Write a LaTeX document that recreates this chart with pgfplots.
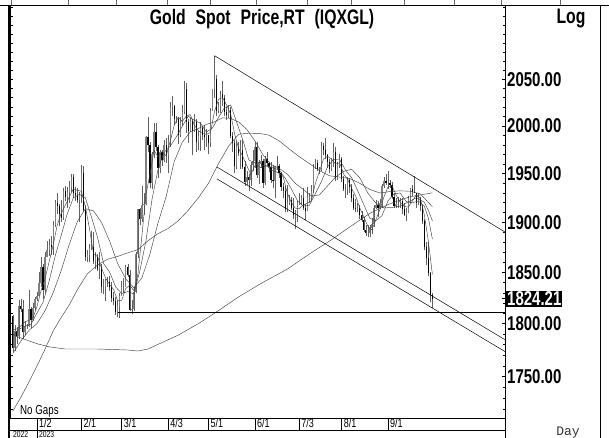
\documentclass[border=0pt]{standalone}
\usepackage{fontspec}
\setmainfont{Liberation Sans}
\newfontfamily\cond{Liberation Sans}[FakeStretch=0.75]
\newfontfamily\monof{Liberation Mono}
\usepackage{pgfplots}
\usepackage{pgfplotstable}
\pgfplotsset{compat=1.18}

\pgfplotstableread{
i o h l c
-12 1807 1808 1773 1777
-11 1777 1799 1774 1793
-10 1793 1797 1781 1788
-9 1788 1823 1785 1817
-8 1817 1824 1811 1814
-7 1814 1823 1785 1792
-6 1792 1803 1789 1798
-5 1798 1800 1795 1798
-4 1798 1833 1797 1814
-3 1814 1816 1796 1804
-2 1804 1820 1803 1815
-1 1815 1826 1813 1824
0 1824 1831 1822 1827
1 1827 1850 1827 1839
2 1839 1865 1836 1855
3 1855 1858 1824 1833
4 1833 1870 1830 1865
5 1865 1881 1865 1872
6 1872 1883 1866 1877
7 1877 1886 1867 1875
8 1875 1901 1867 1897
9 1897 1923 1895 1920
10 1920 1930 1908 1916
11 1916 1919 1896 1908
12 1908 1923 1900 1904
13 1904 1935 1902 1932
14 1932 1937 1922 1926
15 1926 1936 1915 1931
16 1931 1942 1920 1936
17 1936 1949 1931 1946
18 1946 1949 1925 1930
19 1930 1936 1922 1928
20 1928 1935 1920 1923
21 1923 1931 1900 1928
22 1928 1959 1920 1950
23 1950 1958 1910 1912
24 1912 1918 1861 1865
25 1865 1872 1860 1867
26 1867 1878 1860 1874
27 1874 1891 1872 1875
28 1875 1890 1858 1861
29 1861 1870 1853 1865
30 1865 1868 1851 1853
31 1853 1870 1843 1855
32 1855 1858 1830 1836
33 1836 1843 1829 1836
34 1836 1843 1822 1842
35 1842 1845 1836 1841
36 1841 1846 1832 1835
37 1835 1841 1821 1825
38 1825 1831 1818 1822
39 1822 1826 1808 1811
40 1811 1822 1806 1817
41 1817 1830 1805 1827
42 1827 1842 1827 1836
43 1836 1844 1830 1836
44 1836 1857 1836 1855
45 1855 1858 1845 1847
46 1847 1852 1812 1813
47 1813 1823 1809 1814
48 1814 1835 1812 1831
49 1831 1870 1830 1868
50 1868 1913 1864 1913
51 1913 1915 1897 1903
52 1903 1937 1900 1918
53 1918 1930 1907 1919
54 1919 1989 1918 1988
55 1988 2009 1972 1980
56 1980 1983 1935 1940
57 1940 1972 1934 1970
58 1970 2003 1966 1993
59 1993 2003 1974 1978
60 1978 1980 1945 1956
61 1956 1975 1950 1973
62 1973 1975 1958 1964
63 1964 1985 1962 1980
64 1980 1987 1961 1969
65 1969 1990 1950 1984
66 1984 2025 1978 2020
67 2020 2032 2010 2021
68 2021 2022 2001 2007
69 2007 2010 2003 2007
70 2007 2009 1981 1990
71 1990 2009 1988 2003
72 2003 2022 2000 2015
73 2015 2048 2012 2040
74 2040 2046 1992 2004
75 2004 2007 1982 1995
76 1995 2008 1993 2005
77 2005 2007 1969 1994
78 1994 2012 1993 2004
79 2004 2007 1973 1983
80 1983 1994 1975 1989
81 1989 2004 1974 1998
82 1998 2000 1985 1990
83 1990 2001 1975 1988
84 1988 1997 1978 1990
85 1990 1991 1970 1982
86 1982 2019 1978 2016
87 2016 2040 2016 2039
88 2039 2076 2030 2050
89 2050 2055 2010 2016
90 2016 2025 2014 2021
91 2021 2037 2014 2034
92 2034 2048 2021 2030
93 2030 2033 2010 2015
94 2015 2020 2006 2011
95 2011 2022 2008 2017
96 2017 2020 1987 1989
97 1989 1993 1972 1982
98 1982 1985 1951 1958
99 1958 1984 1955 1978
100 1978 1983 1968 1971
101 1971 1985 1955 1975
102 1975 1985 1955 1957
103 1957 1963 1937 1941
104 1941 1953 1938 1946
105 1946 1949 1932 1943
106 1943 1962 1937 1959
107 1959 1975 1953 1963
108 1963 1983 1956 1978
109 1978 1983 1945 1948
110 1948 1964 1939 1961
111 1961 1969 1956 1963
112 1963 1965 1935 1940
113 1940 1968 1938 1965
114 1965 1973 1958 1961
115 1961 1962 1952 1957
116 1957 1962 1940 1943
117 1943 1959 1935 1942
118 1942 1958 1925 1958
119 1958 1968 1954 1958
120 1958 1960 1945 1950
121 1950 1952 1932 1936
122 1936 1940 1925 1932
123 1932 1937 1910 1913
124 1913 1938 1910 1920
125 1920 1928 1917 1923
126 1923 1926 1912 1914
127 1914 1925 1903 1907
128 1907 1912 1893 1908
129 1908 1922 1900 1919
130 1919 1930 1917 1921
131 1921 1928 1917 1925
132 1925 1935 1912 1915
133 1915 1919 1902 1911
134 1911 1936 1911 1925
135 1925 1930 1920 1925
136 1925 1938 1922 1932
137 1932 1960 1930 1957
138 1957 1965 1955 1961
139 1961 1964 1953 1955
140 1955 1957 1949 1955
141 1955 1983 1953 1979
142 1979 1982 1969 1975
143 1975 1987 1965 1969
144 1969 1970 1956 1962
145 1962 1965 1950 1955
146 1955 1966 1953 1965
147 1965 1982 1957 1972
148 1972 1978 1942 1945
149 1945 1962 1943 1959
150 1959 1970 1956 1965
151 1965 1967 1941 1944
152 1944 1947 1932 1934
153 1934 1939 1925 1934
154 1934 1946 1928 1943
155 1943 1945 1930 1936
156 1936 1939 1921 1925
157 1925 1929 1912 1914
158 1914 1924 1910 1913
159 1913 1920 1910 1914
160 1914 1917 1903 1907
161 1907 1911 1900 1902
162 1902 1905 1890 1892
163 1892 1897 1886 1889
164 1889 1897 1885 1889
165 1889 1897 1885 1894
166 1894 1904 1888 1898
167 1898 1918 1895 1915
168 1915 1923 1913 1917
169 1917 1922 1905 1914
170 1914 1924 1913 1920
171 1920 1939 1915 1937
172 1937 1946 1935 1942
173 1942 1949 1938 1940
174 1940 1953 1934 1940
175 1940 1943 1935 1938
176 1938 1941 1924 1926
177 1926 1930 1915 1916
178 1916 1925 1915 1919
179 1919 1926 1915 1919
180 1919 1925 1915 1922
181 1922 1925 1908 1913
182 1913 1920 1906 1907
183 1907 1914 1901 1910
184 1910 1927 1909 1924
185 1924 1935 1920 1934
186 1934 1938 1927 1931
187 1931 1947 1930 1930
188 1930 1930 1914 1920
189 1920 1930 1918 1925
190 1925 1926 1911 1916
191 1916 1917 1898 1901
192 1901 1903 1872 1875
193 1875 1880 1857 1864
194 1864 1880 1846 1849
195 1849 1850 1821 1828
196 1828 1830 1815 1824.21
}\ohlc

\begin{document}
\begin{tikzpicture}
\path[use as bounding box] (0pt,0pt) rectangle (609pt,438pt);
\begin{axis}[
  at={(10pt,20pt)}, anchor=south west, scale only axis,
  width=495pt, height=413pt,
  xmin=-13.39, xmax=232,
  ymode=log, ymin=1712, ymax=2133,
  clip mode=individual,
  axis line style={black, line width=0.6pt},
  xtick={0,22,42,65,85,108,130,151,174},
  xticklabels={1/2,2/1,3/1,4/3,5/1,6/1,7/3,8/1,9/1},
  xtick pos=bottom, xtick style={draw=none},
  xticklabel style={anchor=north west, inner sep=1pt, xshift=1pt, font=\cond\fontsize{12}{12}\selectfont},
  ytick={1750,1800,1850,1900,1950,2000,2050},
  yticklabels={1750.00,1800.00,1850.00,1900.00,1950.00,2000.00,2050.00},
  minor ytick={1720,1730,1740,1760,1770,1780,1790,1810,1820,1830,1840,1860,1870,1880,1890,1910,1920,1930,1940,1960,1970,1980,1990,2010,2020,2030,2040,2060,2070,2080,2090,2100,2110,2120,2130},
  tick align=inside, major tick length=3pt, minor tick length=2.5pt,
  ytick style={black, line width=0.5pt},
  yticklabel pos=right,
  yticklabel style={anchor=west, inner sep=1pt, xshift=1pt, font=\cond\bfseries\fontsize{20}{20}\selectfont},
  extra y ticks={1824.21},
  extra y tick labels={1824.21},
  extra y tick style={yticklabel style={fill=black, text=white, inner sep=1pt}},
]
% wicks
\addplot[draw=none, mark=none, forget plot,
  error bars/.cd, y dir=plus, y explicit, error mark=none,
  error bar style={draw=black!62, line width=0.55pt}]
  table[x=i, y=l, y error expr=\thisrow{h}-\thisrow{l}] {\ohlc};
% up bodies
\addplot[draw=none, mark=none, forget plot,
  restrict expr to domain={\thisrow{c}-\thisrow{o}}{0:1000},
  error bars/.cd, y dir=plus, y explicit, error mark=none,
  error bar style={draw=black!50, line width=1.2pt}]
  table[x=i, y=o, y error expr=\thisrow{c}-\thisrow{o}] {\ohlc};
% down bodies
\addplot[draw=none, mark=none, forget plot,
  restrict expr to domain={\thisrow{o}-\thisrow{c}}{0.001:1000},
  error bars/.cd, y dir=plus, y explicit, error mark=none,
  error bar style={draw=black, line width=1.2pt}]
  table[x=i, y=c, y error expr=\thisrow{o}-\thisrow{c}] {\ohlc};

% 5-day MA
\addplot[black!75, line width=0.45pt] coordinates {
(-12,1794.4)(-10,1795)(-8,1797.8)(-6,1801.8)(-4,1803.2)(-2,1805.8)(0,1816.8)(2,1832)(4,1843.8)(6,1860.4)(8,1877.2)(10,1897)(12,1909)(14,1917.2)(16,1925.8)(18,1933.8)(20,1932.6)(22,1931.8)(24,1915.6)(26,1893.6)(28,1868.4)(30,1865.6)(32,1854)(34,1844.4)(36,1838)(38,1833)(40,1822)(42,1822.6)(44,1834.2)(46,1837.4)(48,1832)(50,1847.8)(52,1886.6)(54,1928.2)(56,1949)(58,1974.2)(60,1967.4)(62,1972.8)(64,1968.4)(66,1983.4)(68,2000.2)(70,2009)(72,2004.4)(74,2010.4)(76,2011.8)(78,2000.4)(80,1995)(82,1992.8)(84,1991)(86,1993.2)(88,2015.4)(90,2028.4)(92,2030.2)(94,2022.2)(96,2012.4)(98,1991.4)(100,1975.6)(102,1967.8)(104,1958)(106,1949.2)(108,1957.8)(110,1961.8)(112,1958)(114,1958)(116,1953.2)(118,1952.2)(120,1950.2)(122,1946.8)(124,1930.2)(126,1920.4)(128,1914.4)(130,1913.8)(132,1917.6)(134,1919.4)(136,1921.6)(138,1940)(140,1952)(142,1965)(144,1968)(146,1965.2)(148,1959.8)(150,1961.2)(152,1949.4)(154,1944)(156,1934.4)(158,1926.2)(160,1914.6)(162,1905.6)(164,1895.8)(166,1892.4)(168,1902.6)(170,1912.8)(172,1926)(174,1935.8)(176,1937.2)(178,1927.8)(180,1920.4)(182,1916)(184,1915.2)(186,1921.2)(188,1927.8)(190,1924.4)(192,1907.4)(194,1881)(196,1848)};
% 10-day MA
\addplot[black!75, line width=0.45pt] coordinates {
(-12,1788.5)(-9,1794.6)(-6,1797.7)(-3,1799.5)(0,1810.3)(3,1820.7)(6,1841.1)(9,1866)(12,1886.7)(15,1908.6)(18,1924.9)(21,1928.4)(24,1924.9)(27,1905.2)(30,1885)(33,1858.7)(36,1849.9)(39,1835.6)(42,1829.2)(45,1831.1)(48,1828.7)(51,1851.6)(54,1881.4)(57,1923)(60,1954.5)(63,1972.2)(66,1978.7)(69,1988.1)(72,1999.6)(75,2010.2)(78,2005.7)(81,2002.7)(84,1993.6)(87,1997.9)(90,2009)(93,2019.3)(96,2022.2)(99,2003.5)(102,1985.3)(105,1964)(108,1961.1)(111,1955.9)(114,1958.1)(117,1955.8)(120,1953.7)(123,1945)(126,1934.6)(129,1922.2)(132,1916.5)(135,1917)(138,1929.1)(141,1941.5)(144,1957)(147,1964.8)(150,1964.6)(153,1953.5)(156,1945.7)(159,1932.2)(162,1918)(165,1903.9)(168,1901.7)(171,1906.5)(174,1921.7)(177,1929)(180,1929.9)(183,1921)(186,1919.5)(189,1921.6)(192,1916.6)(194,1904.5)(196,1883.2)};
% 20-day MA
\addplot[black!75, line width=0.45pt] coordinates {
(-12,1771.8)(-8,1783.4)(-4,1793.5)(0,1800.2)(4,1812.6)(8,1829.9)(12,1851.7)(16,1877.8)(20,1900.7)(24,1913.8)(28,1911.6)(32,1899.7)(36,1881.1)(40,1858.5)(44,1843.5)(48,1834.9)(52,1844.5)(56,1868.2)(60,1899.3)(64,1925.9)(68,1962.2)(72,1982.9)(76,1993.7)(80,1997.4)(84,2001.4)(88,2004.1)(92,2008.4)(96,2007.8)(100,2003.8)(104,1996.4)(108,1984.2)(112,1969.8)(116,1959.5)(120,1955.4)(124,1949.5)(128,1940)(132,1933.4)(136,1926.7)(140,1927.7)(144,1936.9)(148,1946.2)(152,1952.3)(156,1954.5)(160,1945.5)(164,1929.9)(168,1919.2)(172,1914.8)(176,1915)(180,1916.5)(184,1920.6)(188,1925.1)(192,1920.3)(194,1912)(196,1901.4)};
% 50-day MA
\addplot[black!75, line width=0.45pt] coordinates {
(-12,1718)(-8,1731)(-4,1745)(0,1760)(4,1776)(8,1793)(12,1806)(16,1818)(20,1832.9)(25,1848.5)(30,1857.3)(35,1863)(40,1865.7)(45,1869.4)(50,1872.5)(55,1881.3)(60,1888.4)(65,1893.8)(70,1901.4)(75,1912.1)(80,1925)(85,1939.8)(90,1960.4)(95,1978.6)(100,1991.3)(105,1992.4)(110,1991.9)(115,1990.2)(120,1984.3)(125,1975.6)(130,1967.5)(135,1960.6)(140,1952.9)(145,1947.6)(150,1946.2)(155,1944.7)(160,1940)(165,1933.6)(170,1929.9)(175,1931.3)(180,1932)(185,1931.7)(190,1929)(196,1915.7)};
% 200-day MA
\addplot[black!75, line width=0.45pt] coordinates {
(-12,1789)(-6,1785)(0,1781)(6,1778)(14,1776)(30,1776)(45,1775)(50,1774)(55,1776)(62,1782)(70,1789)(80,1800)(88,1810)(100,1826)(112,1840)(124,1853)(135,1868)(145,1881)(155,1895)(165,1909)(175,1919)(185,1926)(196,1930)};

% channel and support lines
\addplot[black, line width=0.5pt] coordinates {(88,2076)(232,1890)};
\addplot[black, line width=0.5pt] coordinates {(89.1,1956.8)(232,1784.7)};
\addplot[black, line width=0.5pt] coordinates {(89.1,1944.3)(232,1773.4)};
\addplot[black, line width=0.5pt] coordinates {(40,1811)(232,1811)};
\end{axis}

% frame
\draw[line width=0.8pt] (0pt,433pt) -- (609pt,433pt);
\draw[line width=2.4pt] (9pt,0pt) -- (9pt,433pt);
\draw[line width=0.6pt] (505pt,0pt) -- (505pt,433pt);
\draw[line width=0.8pt] (600pt,0pt) -- (600pt,433pt);
\draw[line width=0.6pt] (9pt,8pt) -- (505pt,8pt);
\foreach \px in {37,81.4,121.7,168.1,208.4,254.8,299.2,341.6,388} {
  \draw[line width=0.5pt] (\px pt,8pt) -- (\px pt,20pt);
}
\draw[line width=0.5pt] (37pt,0pt) -- (37pt,8pt);
\foreach \px in {11,68,116,167,210,256,307,351,404,454,501,560} {
  \draw[line width=0.4pt, black!60] (\px pt,433pt) -- (\px pt,438pt);
}
\node[anchor=base west, inner sep=0pt, font=\cond\fontsize{9}{9}\selectfont] at (13pt,1pt) {2022};
\node[anchor=base west, inner sep=0pt, font=\cond\fontsize{9}{9}\selectfont] at (39pt,1pt) {2023};
% titles
\node[font=\cond\bfseries\fontsize{21}{21}\selectfont, inner sep=0pt] at (262pt,419pt) {Gold\hspace{10pt}Spot\hspace{10pt}Price,RT\hspace{10pt}(IQXGL)};
\node[font=\cond\bfseries\fontsize{21}{21}\selectfont, inner sep=0pt] at (571pt,419pt) {Log};
\node[anchor=base west, font=\cond\fontsize{13}{13}\selectfont, inner sep=0pt] at (20pt,23pt) {No Gaps};
\node[anchor=base, font=\monof\fontsize{13}{13}\selectfont, text=black!80, inner sep=0pt] at (568pt,2pt) {Day};
\end{tikzpicture}
\end{document}
